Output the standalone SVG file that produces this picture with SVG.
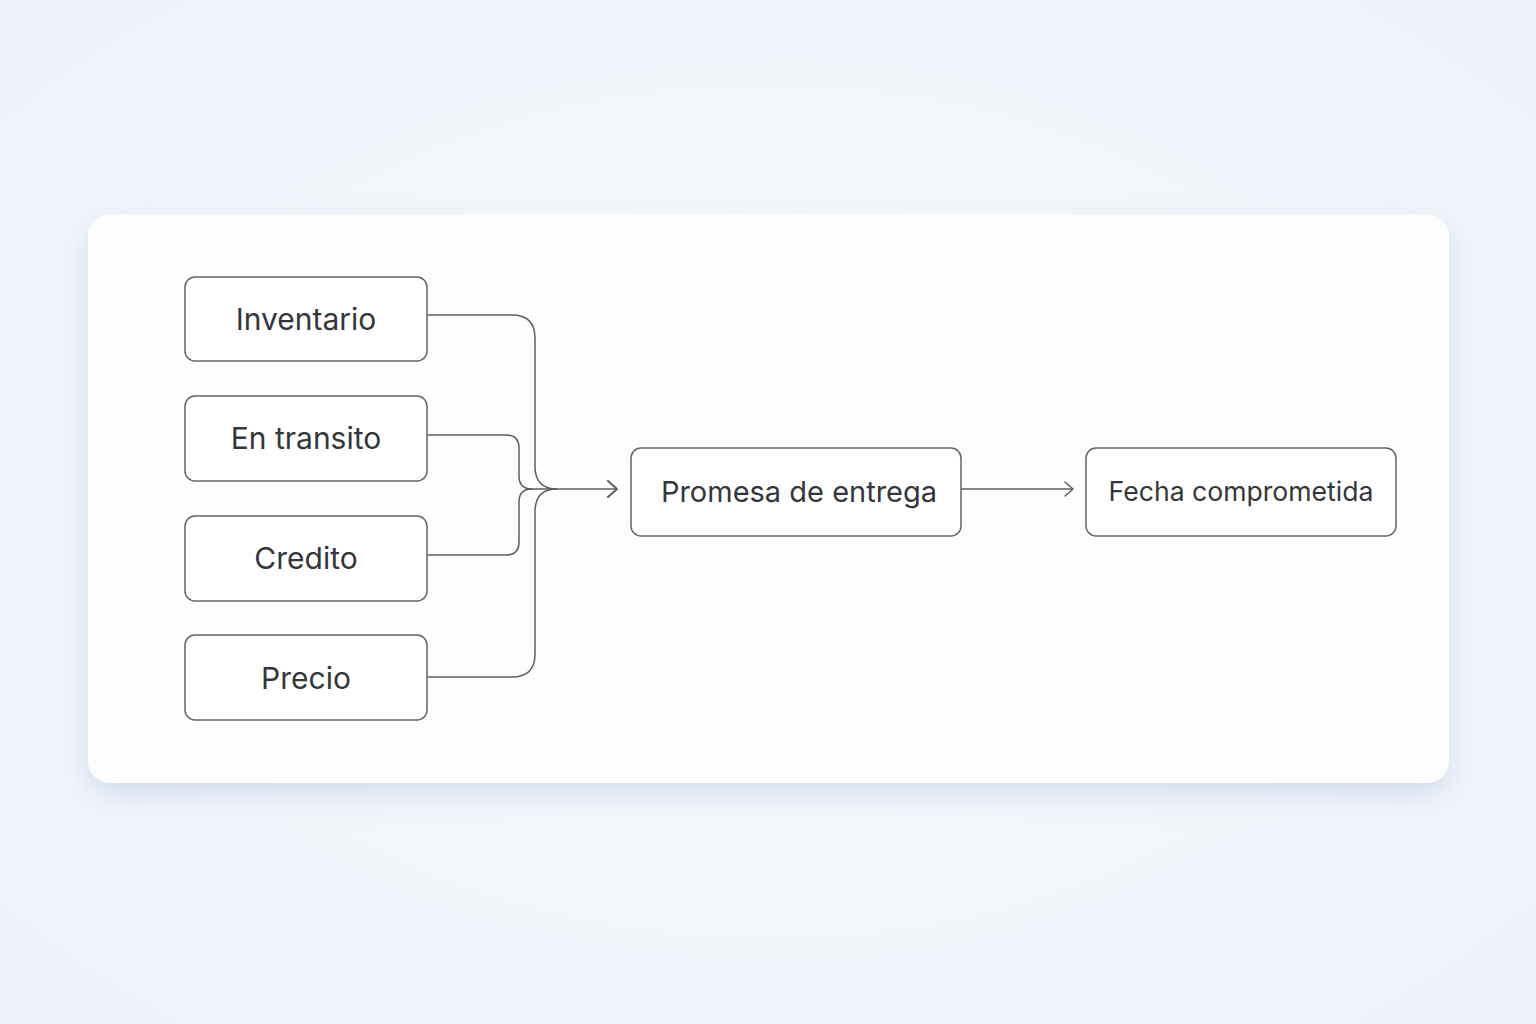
<svg xmlns="http://www.w3.org/2000/svg" width="1536" height="1024" viewBox="0 0 1536 1024">
  <defs>
    <radialGradient id="bg" cx="50%" cy="50%" r="75%">
      <stop offset="0" stop-color="#f9fafd"/>
      <stop offset="1" stop-color="#edf2fa"/>
    </radialGradient>
    <filter id="shadow" x="-10%" y="-10%" width="120%" height="130%">
      <feGaussianBlur in="SourceAlpha" stdDeviation="14"/>
      <feOffset dy="12" result="b"/>
      <feFlood flood-color="#9fb3d6" flood-opacity="0.35"/>
      <feComposite in2="b" operator="in"/>
      <feMerge><feMergeNode/><feMergeNode in="SourceGraphic"/></feMerge>
    </filter>
    <marker id="arrow" viewBox="0 0 12 20" refX="11" refY="10" markerWidth="12" markerHeight="20" markerUnits="userSpaceOnUse" orient="auto">
      <path d="M2 2 L11 10 L2 18" fill="none" stroke="#5b5f66" stroke-width="2" stroke-linecap="round" stroke-linejoin="round"/>
    </marker>
    <marker id="arrowThin" viewBox="0 0 12 20" refX="11" refY="10" markerWidth="12" markerHeight="20" markerUnits="userSpaceOnUse" orient="auto">
      <path d="M3 3 L11 10 L3 17" fill="none" stroke="#5b5f66" stroke-width="1.5" stroke-linecap="round" stroke-linejoin="round"/>
    </marker>
  </defs>
  <style>
    .node rect { fill: #ffffff; stroke: #60646b; stroke-width: 1.5; }
    .node text { font-family: Inter, "Liberation Sans", sans-serif; font-size: 30px; fill: #33363b; text-anchor: middle; dominant-baseline: central; }
    .conn path { fill: none; stroke: #5b5f66; stroke-width: 1.5; }
  </style>
  <rect width="1536" height="1024" fill="url(#bg)"/>
  <rect x="88" y="214" width="1361" height="569" rx="22" fill="#fdfdfe" filter="url(#shadow)"/>

  <g class="conn">
    <path d="M427 315 H512 Q535 315 535 338 V466 Q535 489 557 489"/>
    <path d="M427 435 H506 Q519 435 519 448 V476 Q519 489 532 489"/>
    <path d="M427 555 H506 Q519 555 519 542 V502 Q519 489 532 489"/>
    <path d="M427 677 H512 Q535 677 535 654 V512 Q535 489 557 489"/>
    <path d="M530 489 H617" marker-end="url(#arrow)"/>
    <path d="M961 489 H1073" marker-end="url(#arrowThin)"/>
  </g>

  <g id="inventario" class="node">
    <rect x="185" y="277" width="242" height="84" rx="10"/>
    <text x="306" y="319">Inventario</text>
  </g>
  <g id="en-transito" class="node">
    <rect x="185" y="396" width="242" height="85" rx="10"/>
    <text x="306" y="438">En transito</text>
  </g>
  <g id="credito" class="node">
    <rect x="185" y="516" width="242" height="85" rx="10"/>
    <text x="306" y="558">Credito</text>
  </g>
  <g id="precio" class="node">
    <rect x="185" y="635" width="242" height="85" rx="10"/>
    <text x="306" y="678">Precio</text>
  </g>
  <g id="promesa" class="node">
    <rect x="631" y="448" width="330" height="88" rx="10"/>
    <text x="799" y="491" style="font-size:29px">Promesa de entrega</text>
  </g>
  <g id="fecha" class="node">
    <rect x="1086" y="448" width="310" height="88" rx="10"/>
    <text x="1241" y="491" style="font-size:26.6px">Fecha comprometida</text>
  </g>
</svg>
